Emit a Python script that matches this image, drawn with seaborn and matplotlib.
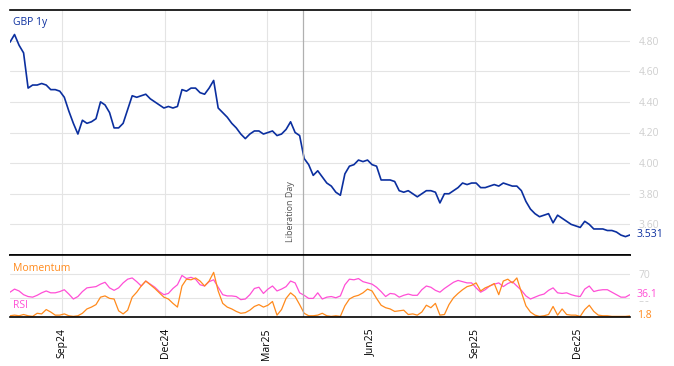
import matplotlib
matplotlib.use("Agg")
import matplotlib.pyplot as plt
import matplotlib.dates as mdates
import pandas as pd
import seaborn as sns

# --- data (one point every 4 days) ---
start_date = "2024-07-17"
step_days = 4
liberation_day = "2025-04-02"

gbp_1y = [
    4.79, 4.84, 4.77, 4.72, 4.49, 4.51, 4.51, 4.52, 4.51, 4.48,
    4.48, 4.47, 4.43, 4.34, 4.26, 4.19, 4.28, 4.26, 4.27, 4.29,
    4.40, 4.38, 4.33, 4.23, 4.23, 4.26, 4.35, 4.44, 4.43, 4.44,
    4.45, 4.42, 4.40, 4.38, 4.36, 4.37, 4.36, 4.37, 4.48, 4.47,
    4.49, 4.49, 4.46, 4.45, 4.49, 4.54, 4.36, 4.33, 4.30, 4.26,
    4.23, 4.19, 4.16, 4.19, 4.21, 4.21, 4.19, 4.20, 4.21, 4.18,
    4.19, 4.22, 4.27, 4.20, 4.18, 4.03, 3.99, 3.92, 3.95, 3.91,
    3.87, 3.85, 3.81, 3.79, 3.93, 3.98, 3.99, 4.02, 4.01, 4.02,
    3.99, 3.98, 3.89, 3.89, 3.89, 3.88, 3.82, 3.81, 3.82, 3.80,
    3.78, 3.80, 3.82, 3.82, 3.81, 3.74, 3.80, 3.80, 3.82, 3.84,
    3.87, 3.86, 3.87, 3.87, 3.84, 3.84, 3.85, 3.86, 3.85, 3.87,
    3.86, 3.85, 3.85, 3.82, 3.75, 3.70, 3.67, 3.65, 3.66, 3.67,
    3.61, 3.66, 3.64, 3.62, 3.60, 3.59, 3.58, 3.62, 3.60, 3.57,
    3.57, 3.57, 3.56, 3.56, 3.55, 3.53, 3.52, 3.531,
]

rsi = [
    40, 45, 42, 36, 33, 32, 35, 39, 42, 39,
    39, 41, 44, 37, 29, 33, 41, 47, 48, 49,
    53, 56, 47, 43, 47, 55, 61, 63, 57, 50,
    58, 53, 48, 41, 36, 38, 46, 52, 67, 62,
    64, 61, 52, 50, 57, 60, 48, 36, 34, 34,
    33, 28, 29, 36, 46, 48, 38, 45, 50, 42,
    45, 49, 58, 55, 39, 35, 30, 30, 39, 29,
    32, 33, 31, 34, 52, 61, 60, 62, 57, 55,
    53, 48, 41, 33, 38, 37, 32, 35, 37, 35,
    35, 44, 50, 48, 43, 40, 46, 51, 56, 59,
    57, 55, 55, 47, 40, 44, 50, 53, 55, 49,
    54, 57, 50, 43, 34, 29, 32, 35, 37, 43,
    47, 39, 38, 39, 36, 34, 33, 45, 50, 41,
    43, 44, 44, 40, 36, 32, 32, 36.1,
]

momentum = [
    2, 3, 2, 4, 2, 1, 6, 5, 12, 8,
    3, 3, 5, 2, 1, 2, 6, 13, 16, 20,
    32, 34, 30, 29, 10, 5, 11, 32, 40, 50,
    58, 52, 46, 39, 32, 29, 22, 16, 50, 61,
    60, 63, 58, 50, 58, 72, 42, 22, 16, 13,
    9, 6, 7, 11, 17, 20, 16, 19, 25, 3,
    12, 30, 39, 33, 20, 6, 2, 2, 3, 6,
    2, 1, 2, 1, 18, 29, 33, 35, 39, 45,
    42, 30, 19, 15, 13, 9, 10, 11, 4, 5,
    3, 8, 19, 15, 22, 3, 4, 20, 31, 38,
    44, 49, 51, 55, 42, 47, 50, 54, 36, 58,
    61, 55, 63, 40, 18, 8, 3, 1, 2, 4,
    17, 3, 13, 4, 3, 3, 1, 12, 19, 9,
    3, 2, 2, 1, 1, 1, 1, 1.8,
]

dates = pd.date_range(start_date, periods=len(gbp_1y), freq=f"{step_days}D")
df = pd.DataFrame({"date": dates, "gbp": gbp_1y, "rsi": rsi, "momentum": momentum})

blue = "#0b2f9f"
pink = "#ff4fd6"
orange = "#ff8a1c"
grid_col = "#e4e4e4"
tick_col = "#cfcfcf"

sns.set_theme(style="white")
plt.rcParams["font.family"] = ["Open Sans", "DejaVu Sans"]

fig = plt.figure(figsize=(6.74, 3.66), dpi=100)
ax = fig.add_axes([10 / 674, 1 - 255 / 366, 620 / 674, 245 / 366])
ax2 = fig.add_axes([10 / 674, 1 - 317 / 366, 620 / 674, 62 / 366], sharex=ax)

sns.lineplot(data=df, x="date", y="gbp", ax=ax, color=blue, linewidth=1.2)
sns.lineplot(data=df, x="date", y="rsi", ax=ax2, color=pink, linewidth=0.9)
sns.lineplot(data=df, x="date", y="momentum", ax=ax2, color=orange, linewidth=0.9)

ax.set_xlim(dates[0], dates[-1])
ax.set_ylim(3.40, 5.00)
ax2.set_ylim(0, 100)

for a in (ax, ax2):
    a.set_xlabel("")
    a.set_ylabel("")
    for side in ("left", "right"):
        a.spines[side].set_visible(False)
    for side in ("top", "bottom"):
        a.spines[side].set_color("black")
        a.spines[side].set_linewidth(1.2)
    a.yaxis.tick_right()
    a.grid(True, color=grid_col, linewidth=0.8)
    a.set_axisbelow(True)
    a.tick_params(axis="y", length=0, pad=6, labelsize=7.5, labelcolor=tick_col)
    a.tick_params(axis="x", direction="in", length=5, width=1, color="black")
    a.axvline(pd.Timestamp(liberation_day), color="#b0b0b0", linewidth=0.9)

ax.set_yticks([3.6, 3.8, 4.0, 4.2, 4.4, 4.6, 4.8])
ax.set_yticklabels([f"{v:.2f}" for v in ax.get_yticks()])
ax2.set_yticks([30, 70])

ax.xaxis.set_major_locator(mdates.MonthLocator(bymonth=[3, 6, 9, 12]))
ax.xaxis.set_major_formatter(mdates.DateFormatter("%b%y"))
ax.tick_params(axis="x", labelbottom=False)
ax2.tick_params(axis="x", labelsize=7.5, labelcolor="black", rotation=90, pad=8)
ax2.tick_params(axis="x", which="both", top=False)

# labels
ax.text(0.005, 0.94, "GBP 1y", transform=ax.transAxes, color=blue, fontsize=7.5)
ax2.text(0.005, 0.79, "Momentum", transform=ax2.transAxes, color=orange, fontsize=7.5, va="center")
ax2.text(0.005, 0.18, "RSI", transform=ax2.transAxes, color=pink, fontsize=7.5, va="center")

ax.annotate("Liberation Day", xy=(pd.Timestamp(liberation_day), 0),
            xycoords=("data", "axes fraction"), xytext=(-9, 9),
            textcoords="offset points", rotation=90, ha="center", va="bottom",
            fontsize=6.5, color="#555555")

ax.annotate(f"{gbp_1y[-1]:.3f}", xy=(1, gbp_1y[-1]), xycoords=("axes fraction", "data"),
            xytext=(5, 0), textcoords="offset points", va="center", color=blue, fontsize=7.5)
ax2.annotate(f"{rsi[-1]:.1f}", xy=(1, rsi[-1]), xycoords=("axes fraction", "data"),
             xytext=(5, 0), textcoords="offset points", va="center", color=pink, fontsize=7.5,
             bbox=dict(facecolor="white", edgecolor="none", pad=0.5))
ax2.annotate(f"{momentum[-1]:.1f}", xy=(1, momentum[-1]), xycoords=("axes fraction", "data"),
             xytext=(5, 0), textcoords="offset points", va="center", color=orange, fontsize=7.5)

fig.savefig("out.png", dpi=100)
